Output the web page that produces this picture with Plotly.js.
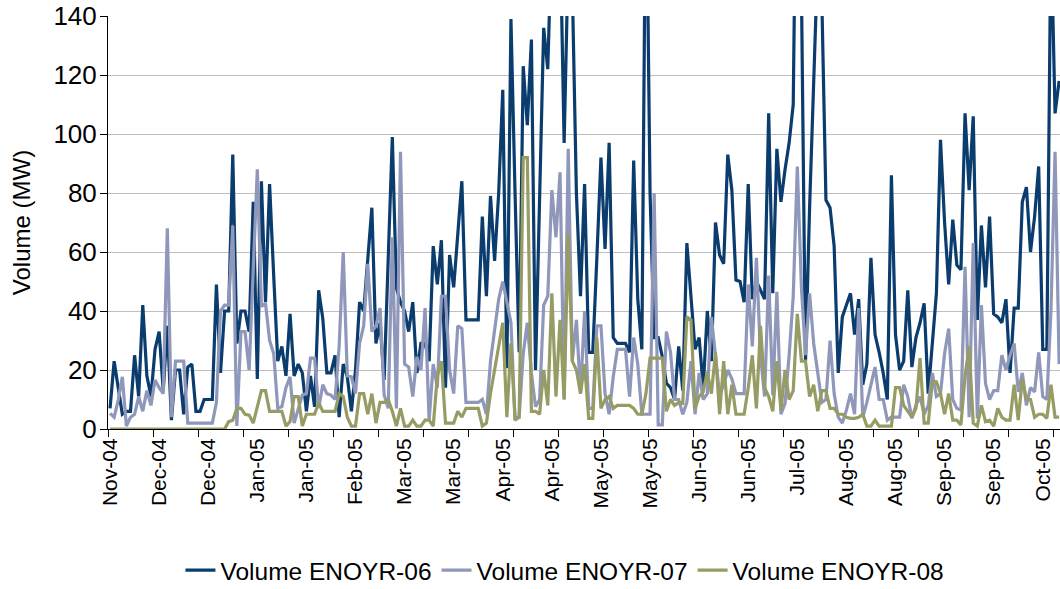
<!DOCTYPE html>
<html>
<head>
<meta charset="utf-8">
<script src="https://cdn.plot.ly/plotly-3.0.1.min.js"></script>
<style>html,body{margin:0;padding:0;background:#fff;}#chart{width:1060px;height:589px;}</style>
</head>
<body>
<div id="chart"></div>
<script>
// Daily volumes (MW), one value per trading day
const volENOYR06 = [
  7, 23, 14, 5, 6, 6, 25, 11, 42, 18,
  11, 27, 33, 13, 35, 3, 20, 20, 5, 21,
  22, 6, 6, 10, 10, 10, 49, 19, 40, 40,
  93, 29, 40, 40, 33, 77, 17, 84, 43, 83,
  52, 23, 28, 18, 39, 18, 22, 19, 6, 18,
  7.5, 47, 37.5, 19, 19, 25, 4, 22, 17.7, 6,
  20, 43, 40, 56, 75, 29, 36, 16.6, 55, 99,
  47.7, 43, 40, 33, 43, 19, 29, 29, 23, 62,
  49, 64, 14, 59, 48, 66, 84, 37, 37, 37,
  37, 72, 45, 79, 57, 80, 115, 20.6, 139, 80,
  26, 123, 103, 132, 20, 78, 136, 122, 170, 150,
  170, 97, 160, 150, 80, 45, 83, 26, 26, 58,
  92, 61, 97, 31, 29, 29, 29, 26, 91, 44,
  27, 200, 80, 31, 31, 24.5, 15.5, 14, 10, 28,
  13, 63, 46, 27, 31, 14, 40, 23, 70, 59,
  56, 93, 81, 50.5, 50, 43, 83, 44, 50, 47,
  44, 107, 46, 95, 77, 88, 97, 110, 230, 150,
  23, 75, 128, 160, 145, 77.6, 75, 62, 19, 38,
  42, 46, 32, 44, 15, 22, 58, 32, 26, 19,
  10, 86, 32, 20, 23, 47, 21, 31, 36, 42.6,
  12, 28, 46, 98, 70, 49, 71, 55.6, 54, 107,
  81, 106, 37, 69, 48, 72, 39, 38, 36, 44,
  19, 41, 41, 77, 82, 60, 72, 89, 27, 27,
  170, 107, 118
];
const volENOYR07 = [
  5.3, 4, 9.8, 17.7, 1, 4, 5, 11, 6, 13,
  8, 16.6, 14, 12, 68, 4, 23, 23, 23, 2,
  2, 2, 2, 2, 2, 2, 9, 40, 42, 42,
  69, 1, 33, 33, 20, 57, 88, 41.5, 42.6, 30,
  25.6, 7, 7.6, 14, 17.7, 2, 6.4, 11.5, 12, 24,
  24, 7, 15, 12, 11.5, 10, 28, 60, 18, 17.7,
  12, 29, 35, 56, 33, 35, 41, 11.5, 7, 65,
  7, 94, 22, 21, 11, 24.5, 20, 41, 3, 22,
  14, 45, 45, 20, 12, 35, 34, 9, 9, 9,
  9, 10, 5, 23, 33.5, 44, 50, 42.6, 36, 3,
  4, 25.6, 36, 19, 7.6, 10, 42, 45, 81, 65,
  87, 10, 95, 23, 37, 12, 40, 7, 7, 35,
  35, 12, 5, 17.7, 27, 27, 27, 11, 31, 22,
  5, 5, 5, 80, 1.4, 1.4, 33, 26, 10, 10,
  5, 9, 23, 5, 19, 10, 12, 38, 25.6, 11.5,
  15, 20, 17, 12, 12, 12, 49, 28, 58, 25,
  11, 52, 11.5, 46.5, 5, 8.7, 25, 45, 89, 48,
  25, 46, 29, 19, 9, 10, 30, 12, 4, 2,
  6.4, 12, 5, 41, 4, 9, 15, 21, 10, 10,
  3, 4, 4, 4, 15, 11, 3.6, 8, 11, 5,
  8, 19, 11, 12, 25.6, 34, 10, 7, 6.4, 55,
  4, 63, 3.6, 42, 15.5, 10, 13, 13, 25, 20,
  25, 29, 12.6, 19, 8, 14, 12.6, 26, 11, 10,
  40, 94, 22
];
const volENOYR08 = [
  0, 0, 0, 0, 0, 0, 0, 0, 0, 0,
  0, 0, 0, 0, 0, 0, 0, 0, 0, 0,
  0, 0, 0, 0, 0, 0, 0, 0, 0, 2.5,
  3, 7, 7, 5, 4.7, 2, 7.5, 13, 13, 6,
  6, 6, 6, 1, 2.5, 11, 11, 1, 5, 5,
  5, 9, 6, 6, 6, 6, 12, 11, 4, 1,
  1, 12, 12, 5, 12, 2, 9, 9, 10, 6,
  1, 7, 1, 1, 3, 1, 1, 3, 3, 1,
  18, 23, 2, 2, 2, 6, 4, 7, 7, 7,
  7, 1, 2, 12, 20, 27, 36, 4, 29, 3.6,
  4, 92, 92, 6, 6, 5, 20, 8, 46, 11,
  37, 10, 66, 23, 20, 12, 22, 3.6, 3.6, 31,
  7, 10, 11, 7, 8, 8, 8, 8, 7, 5,
  5, 12, 24, 24, 24, 24, 6, 10, 8, 9,
  8.7, 38, 37, 7, 11, 12.6, 19.4, 12, 26, 5,
  23, 5, 15, 5, 5, 5, 14, 25, 7, 35,
  14, 11, 6, 23, 6.4, 20, 10, 13, 39, 23,
  23, 11, 15, 6, 13, 13, 7, 7, 5, 5,
  4, 3.6, 3.6, 4, 5, 1, 1, 3, 1, 1,
  1, 1, 14, 14, 8, 6, 4, 7, 24, 2,
  2, 16, 16, 12, 5, 12, 3, 3, 1.4, 18,
  28, 2, 1, 8, 2.5, 3, 1, 7, 4, 3,
  3, 15, 3, 17, 10, 10, 4, 5, 5, 3.6,
  15, 4, 4
];
// Category-axis labels (every 12th trading day) and tick marks (every 11th)
const tickLabels = ["Nov-04","Dec-04","Dec-04","Jan-05","Jan-05","Feb-05","Mar-05","Mar-05","Apr-05","Apr-05",
                    "May-05","May-05","Jun-05","Jun-05","Jul-05","Aug-05","Aug-05","Sep-05","Sep-05","Oct-05"];
const labelEvery = 12;
const tickMarkEvery = 11;
const seriesNames = ["Volume ENOYR-06","Volume ENOYR-07","Volume ENOYR-08"];
const seriesColors = ["#0B3C6E","#8F97BA","#979C64"];

const n = volENOYR06.length;
const idx = Array.from({length:n}, (_, i) => i);
const labelPos = tickLabels.map((_, k) => k * labelEvery);
const markPos = [];
for (let v = -0.5; v < n + 11; v += tickMarkEvery) markPos.push(v);

const series = [volENOYR06, volENOYR07, volENOYR08];
const traces = series.map((ys, s) => ({
  x: idx, y: ys, type: 'scatter', mode: 'lines', name: seriesNames[s],
  line: {color: seriesColors[s], width: 3.2}, cliponaxis: true
}));

const FONT = 'Liberation Sans, Arial, sans-serif';
const plotLeft = 108, plotRight = 1060, catWidth = 45 / tickMarkEvery;
const layout = {
  width: 1060, height: 589,
  margin: {l: plotLeft, r: 1060 - plotRight, t: 16, b: 160, pad: 0, autoexpand: false},
  paper_bgcolor: '#fff', plot_bgcolor: '#fff',
  font: {family: FONT, color: '#000'},
  showlegend: true,
  legend: {orientation: 'h', x: 0.480, xanchor: 'center', yref: 'container', y: 0.032, yanchor: 'middle',
           font: {family: FONT, size: 24.5, color: '#000'}, bgcolor: 'rgba(0,0,0,0)'},
  xaxis: {
    automargin: false,
    range: [-0.5, -0.5 + (plotRight - plotLeft) / catWidth],
    tickmode: 'array', tickvals: labelPos, ticktext: tickLabels,
    tickangle: -90, ticks: '', tickfont: {family: FONT, size: 21, color: '#000'},
    showgrid: false, zeroline: false, showline: true, linecolor: '#000', linewidth: 1,
    minor: {tickmode: 'array', tickvals: markPos, ticks: 'outside', ticklen: 7, tickcolor: '#000', tickwidth: 1, showgrid: false},
    fixedrange: true
  },
  yaxis: {
    automargin: false,
    range: [0, 140], tickmode: 'linear', tick0: 0, dtick: 20,
    ticks: 'outside', ticklen: 7, tickcolor: '#000',
    tickfont: {family: FONT, size: 26, color: '#000'}, ticklabelstandoff: -2,
    showgrid: true, gridcolor: '#BFBFBF', gridwidth: 1,
    zeroline: false, showline: true, linecolor: '#000', linewidth: 1,
    title: {text: 'Volume (MW)', font: {family: FONT, size: 24, color: '#000'}, standoff: 16},
    fixedrange: true
  }
};
Plotly.newPlot('chart', traces, layout, {displayModeBar: false, staticPlot: true});
</script>
</body>
</html>
